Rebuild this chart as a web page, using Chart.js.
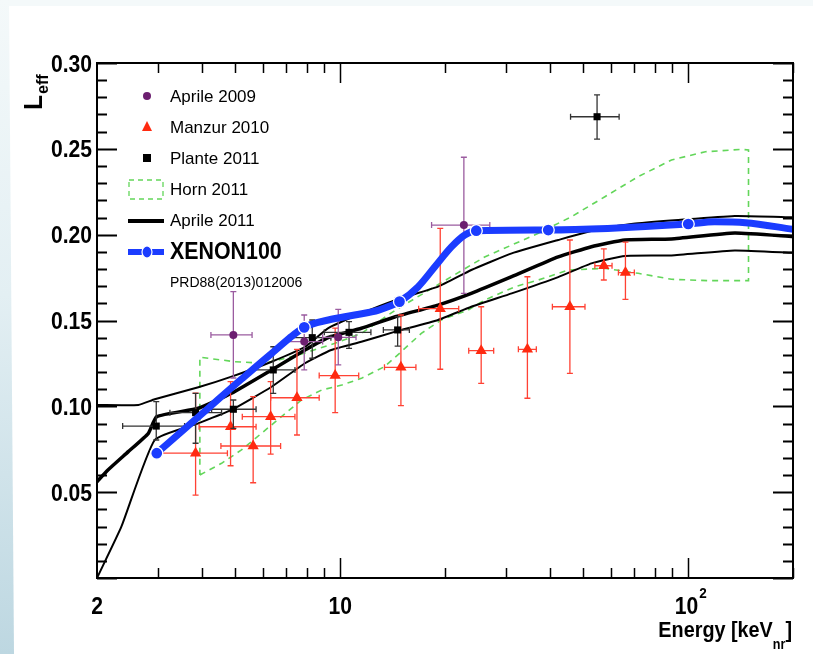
<!DOCTYPE html>
<html><head><meta charset="utf-8">
<script src="https://cdn.jsdelivr.net/npm/chart.js@4.4.0/dist/chart.umd.min.js"></script>
<style>html,body{margin:0;padding:0;background:#fff;}canvas{display:block;}</style>
</head><body>
<canvas id="c" width="813" height="654"></canvas>
<script>
// ---------------- DATA ----------------
// rows: [E, L, Emin, Emax, Lmin, Lmax]
const aprile2009 = [
  [4.93, 0.1416, 4.25, 5.58, 0.1165, 0.1668],
  [7.88, 0.1377, 7.0, 8.9, 0.1212, 0.1532],
  [9.87, 0.1402, 8.9, 11.1, 0.1241, 0.1565],
  [22.66, 0.2056, 18.3, 26.9, 0.1658, 0.2451]
];
const manzur2010 = [
  [3.84, 0.0727, 3.03, 4.74, 0.0483, 0.1077],
  [4.84, 0.0881, 3.93, 5.73, 0.0654, 0.1144],
  [5.62, 0.0769, 4.54, 6.74, 0.0555, 0.1056],
  [6.31, 0.0940, 5.23, 7.41, 0.0722, 0.1144],
  [7.51, 0.1050, 6.31, 8.70, 0.0833, 0.1332],
  [9.67, 0.1179, 8.70, 11.3, 0.0963, 0.1456],
  [14.94, 0.1227, 13.4, 16.5, 0.1004, 0.1532],
  [19.38, 0.1569, 16.8, 21.9, 0.1216, 0.2037],
  [25.41, 0.1324, 23.4, 27.6, 0.1134, 0.1580],
  [34.5, 0.1332, 32.5, 36.6, 0.1047, 0.1755],
  [45.7, 0.1580, 40.7, 50.5, 0.1192, 0.1969],
  [57.2, 0.1819, 53.9, 60.4, 0.1736, 0.1917],
  [66.0, 0.1779, 63.0, 70.0, 0.1623, 0.1956]
];
const plante2011 = [
  [2.96, 0.0885, 2.37, 3.57, 0.0804, 0.1027],
  [3.84, 0.0963, 3.24, 4.56, 0.0785, 0.1076],
  [4.93, 0.0983, 4.27, 5.73, 0.0872, 0.1037],
  [6.42, 0.1212, 5.57, 7.41, 0.1076, 0.1347],
  [8.31, 0.1400, 7.1, 9.4, 0.1280, 0.1503],
  [10.6, 0.1431, 9.0, 12.25, 0.1338, 0.1493],
  [14.62, 0.1445, 13.3, 15.8, 0.1351, 0.1522],
  [54.7, 0.2687, 45.9, 63.3, 0.2556, 0.2814]
];
// Horn 2011 contour: lower edge (left->right), upper edge (right->left)
const hornLowerE = [3.95,4.56,5.20,5.94,6.78,7.74,8.84,10.1,11.5,13.4,14.8,17.1,19.5,23.3,26.0,31.8,37.1,45.2,57.6,71.8,89.5,114,149];
const hornLowerL = [0.060,0.0668,0.0746,0.0843,0.094,0.1037,0.1095,0.1124,0.1163,0.1231,0.1309,0.1425,0.1503,0.1561,0.1619,0.1697,0.1736,0.1794,0.1804,0.1775,0.174,0.1732,0.1732];
const hornUpperE = [149,142,112,89.5,71.8,57.6,46.2,37.1,26.0,19.5,14.4,11.5,9.66,7.57,6.08,4.98,3.95];
const hornUpperL = [0.2493,0.2497,0.2483,0.2435,0.2338,0.2221,0.2105,0.2008,0.187,0.172,0.156,0.1425,0.1367,0.1299,0.1251,0.126,0.1286];
// Aprile 2011 band (central, upper, lower)
const a11CenterE = [2.0,2.15,2.46,2.81,2.97,3.91,4.87,6.35,7.92,9.24,11.5,14.4,19.1,23.8,31.1,42.3,52.7,65.8,89.5,136,200];
const a11CenterL = [0.0561,0.0629,0.0736,0.0843,0.094,0.0989,0.1076,0.1212,0.1328,0.1401,0.1455,0.1522,0.159,0.1658,0.1755,0.187,0.193,0.1969,0.1975,0.201,0.1989];
const a11UpperE = [2.0,2.63,2.93,3.91,4.87,6.35,7.92,9.24,11.5,14.4,19.1,23.8,31.1,42.3,56.3,71.8,136,200];
const a11UpperL = [0.1008,0.1008,0.1041,0.1111,0.1173,0.126,0.1347,0.1456,0.1542,0.1619,0.1697,0.1794,0.1891,0.1969,0.2037,0.2066,0.2109,0.2101];
const a11LowerE = [2.0,2.35,2.93,3.91,4.87,6.35,7.92,9.42,11.5,14.4,19.1,23.8,31.1,42.3,52.7,65.8,89.5,136,200];
const a11LowerL = [0.0,0.0299,0.0804,0.0901,0.0979,0.1114,0.1251,0.1328,0.1376,0.1435,0.1503,0.158,0.1658,0.1753,0.1833,0.1876,0.1879,0.1908,0.1894];
// XENON100 curve and its markers
const xeCurveE = [2.97,4.18,5.2,6.35,7.88,9.24,11.0,12.9,14.8,16.75,18.7,20.9,22.8,24.6,39.6,100,119,146,200];
const xeCurveL = [0.0727,0.0990,0.1158,0.1308,0.146,0.1503,0.1532,0.1561,0.161,0.1697,0.1813,0.193,0.1998,0.2023,0.2027,0.2062,0.2075,0.207,0.2031];
const xeMarkE = [2.97,7.88,14.8,24.6,39.6,100];
const xeMarkL = [0.0727,0.146,0.161,0.2023,0.2027,0.2062];
// axis ticks
const yTickValues = [0.05,0.10,0.15,0.20,0.25,0.30];
const yTickLabels = ['0.05','0.10','0.15','0.20','0.25','0.30'];
const xTickValues = [2,10,100];
const xTickLabels = ['2','10','10'];
const xTickSup = ['','','2'];
const xMinor = [3,4,5,6,7,8,9,20,30,40,50,60,70,80,90,200];

// ---------------- helpers ----------------
const FONT = '"Liberation Sans", Arial, Helvetica, sans-serif';
const pts = (E, L) => E.map((e, i) => ({x: e, y: L[i]}));
const rowPts = rows => rows.map(r => ({x: r[0], y: r[1]}));
const hornPath = pts(hornLowerE, hornLowerL).concat(pts(hornUpperE, hornUpperL)).concat([{x: hornLowerE[0], y: hornLowerL[0]}]);

const COL = {
  blue: '#1b3cff', purple: '#6c1f70', purpleBar: '#9b5ca0',
  red: '#ff2a10', redBar: '#ff4234', black: '#000', blackBar: '#333', green: '#63d65a'
};

function txt(ctx, s, x, y, size, bold, align, base, sx) {
  ctx.save();
  ctx.font = (bold ? 'bold ' : '') + size + 'px ' + FONT;
  ctx.textAlign = align || 'left';
  ctx.textBaseline = base || 'alphabetic';
  ctx.translate(x, y);
  ctx.scale(sx || 1, 1);
  ctx.fillText(s, 0, 0);
  ctx.restore();
}

function errBars(chart, rows, color, lw) {
  const ctx = chart.ctx, xs = chart.scales.x, ys = chart.scales.y;
  ctx.save();
  ctx.strokeStyle = color; ctx.lineWidth = lw;
  const cap = 3;
  rows.forEach(r => {
    const x = xs.getPixelForValue(r[0]), y = ys.getPixelForValue(r[1]);
    const x1 = xs.getPixelForValue(r[2]), x2 = xs.getPixelForValue(r[3]);
    const y1 = ys.getPixelForValue(r[4]), y2 = ys.getPixelForValue(r[5]);
    ctx.beginPath();
    ctx.moveTo(x1, y); ctx.lineTo(x2, y);
    ctx.moveTo(x, y1); ctx.lineTo(x, y2);
    ctx.moveTo(x1, y - cap); ctx.lineTo(x1, y + cap);
    ctx.moveTo(x2, y - cap); ctx.lineTo(x2, y + cap);
    ctx.moveTo(x - cap, y1); ctx.lineTo(x + cap, y1);
    ctx.moveTo(x - cap, y2); ctx.lineTo(x + cap, y2);
    ctx.stroke();
  });
  ctx.restore();
}

const bgPlugin = {
  id: 'bg',
  beforeDraw(chart) {
    const ctx = chart.ctx, W = chart.width, H = chart.height;
    ctx.save();
    ctx.fillStyle = '#fff'; ctx.fillRect(0, 0, W, H);
    ctx.fillStyle = '#f4f9fa'; ctx.fillRect(0, 0, W, 6);
    const g = ctx.createLinearGradient(0, 0, 0, H);
    g.addColorStop(0, '#f4f9fa'); g.addColorStop(0.45, '#e3eff3'); g.addColorStop(1, '#bdd7e1');
    ctx.fillStyle = g;
    ctx.beginPath(); ctx.moveTo(0, 0); ctx.lineTo(9, 0); ctx.lineTo(14, H); ctx.lineTo(0, H); ctx.closePath(); ctx.fill();
    ctx.restore();
  }
};

const errPlugin = {
  id: 'err',
  beforeDatasetDraw(chart, args) {
    const lbl = chart.data.datasets[args.index].label;
    if (lbl === 'Aprile 2009') errBars(chart, aprile2009, COL.purpleBar, 1.3);
    if (lbl === 'Manzur 2010') errBars(chart, manzur2010, COL.redBar, 1.3);
    if (lbl === 'Plante 2011') errBars(chart, plante2011, COL.blackBar, 1.3);
  }
};

const framePlugin = {
  id: 'frame',
  afterDraw(chart) {
    const ctx = chart.ctx, xs = chart.scales.x, ys = chart.scales.y, ca = chart.chartArea;
    const L = ca.left, R = ca.right, T = ca.top, B = ca.bottom;
    ctx.save();
    ctx.strokeStyle = '#000'; ctx.lineWidth = 2;
    ctx.strokeRect(L, T, R - L, B - T);
    ctx.beginPath();
    for (let k = 0; k <= 30; k++) {
      const v = k / 100, y = Math.round(ys.getPixelForValue(v)) + 0.5;
      const len = (k % 5 === 0) ? 20 : 10;
      ctx.moveTo(L, y); ctx.lineTo(L + len, y);
      ctx.moveTo(R, y); ctx.lineTo(R - len, y);
    }
    ctx.stroke();
    ctx.lineWidth = 1.5;
    ctx.beginPath();
    xMinor.forEach(v => {
      const x = Math.round(xs.getPixelForValue(v)) + 0.5;
      ctx.moveTo(x, B); ctx.lineTo(x, B - 10);
      ctx.moveTo(x, T); ctx.lineTo(x, T + 10);
    });
    [10, 100].forEach(v => {
      const x = Math.round(xs.getPixelForValue(v)) + 0.5;
      ctx.moveTo(x, B); ctx.lineTo(x, B - 20);
      ctx.moveTo(x, T); ctx.lineTo(x, T + 20);
    });
    ctx.stroke();
    ctx.fillStyle = '#000';
    yTickValues.forEach((v, i) => {
      txt(ctx, yTickLabels[i], L - 5, ys.getPixelForValue(v) + 2, 24, true, 'right', 'middle', 0.88);
    });
    xTickValues.forEach((v, i) => {
      const x = xs.getPixelForValue(v);
      if (xTickSup[i]) {
        txt(ctx, xTickLabels[i], x + 10, 614, 24, true, 'right', 'alphabetic', 0.88);
        txt(ctx, xTickSup[i], x + 11, 598, 15, true, 'left', 'alphabetic', 0.9);
      } else {
        txt(ctx, xTickLabels[i], x, 614, 24, true, 'center', 'alphabetic', 0.88);
      }
    });
    ctx.font = 'bold 22px ' + FONT;
    const eW = ctx.measureText('Energy [keV').width * 0.9;
    ctx.font = 'bold 14px ' + FONT;
    const nW = ctx.measureText('nr').width * 0.9;
    ctx.font = 'bold 22px ' + FONT;
    const bW = ctx.measureText(']').width * 0.9;
    const xEnd = 792, x0 = xEnd - bW - nW - eW;
    txt(ctx, 'Energy [keV', x0, 637, 22, true, 'left', 'alphabetic', 0.9);
    txt(ctx, 'nr', x0 + eW, 649, 14, true, 'left', 'alphabetic', 0.9);
    txt(ctx, ']', x0 + eW + nW, 637, 22, true, 'left', 'alphabetic', 0.9);
    ctx.save();
    ctx.translate(42, 110);
    ctx.rotate(-Math.PI / 2);
    txt(ctx, 'L', 0, 0, 26, true, 'left', 'alphabetic', 0.95);
    txt(ctx, 'eff', 16, 6, 17, true, 'left', 'alphabetic', 0.95);
    ctx.restore();

    // legend
    const lx = 147, tx = 170;
    ctx.fillStyle = COL.purple;
    ctx.beginPath(); ctx.arc(lx, 96, 4, 0, 2 * Math.PI); ctx.fill();
    ctx.fillStyle = COL.red;
    ctx.beginPath(); ctx.moveTo(lx, 121); ctx.lineTo(lx + 5, 131); ctx.lineTo(lx - 5, 131); ctx.closePath(); ctx.fill();
    ctx.fillStyle = '#000'; ctx.fillRect(lx - 4, 154, 8, 8);
    ctx.strokeStyle = COL.green; ctx.lineWidth = 1.3; ctx.setLineDash([5, 4]);
    ctx.strokeRect(129, 180, 34, 19);
    ctx.setLineDash([]);
    ctx.strokeStyle = '#000'; ctx.lineWidth = 4;
    ctx.beginPath(); ctx.moveTo(128, 221); ctx.lineTo(164, 221); ctx.stroke();
    ctx.strokeStyle = COL.blue; ctx.lineWidth = 6;
    ctx.beginPath(); ctx.moveTo(128, 252); ctx.lineTo(164, 252); ctx.stroke();
    ctx.fillStyle = COL.blue; ctx.strokeStyle = '#fff'; ctx.lineWidth = 1.2;
    ctx.beginPath(); ctx.ellipse(lx, 252, 5, 6, 0, 0, 2 * Math.PI); ctx.fill(); ctx.stroke();
    ctx.fillStyle = '#000';
    txt(ctx, 'Aprile 2009', tx, 97, 17, false, 'left', 'middle');
    txt(ctx, 'Manzur 2010', tx, 128, 17, false, 'left', 'middle');
    txt(ctx, 'Plante 2011', tx, 159, 17, false, 'left', 'middle');
    txt(ctx, 'Horn 2011', tx, 190, 17, false, 'left', 'middle');
    txt(ctx, 'Aprile 2011', tx, 221, 17, false, 'left', 'middle');
    txt(ctx, 'XENON100', tx, 253, 23, true, 'left', 'middle', 0.93);
    txt(ctx, 'PRD88(2013)012006', tx, 283, 14, false, 'left', 'middle');
    ctx.restore();
  }
};

const baseLine = {showLine: true, pointRadius: 0, fill: false, tension: 0};

new Chart(document.getElementById('c'), {
  type: 'scatter',
  data: {
    datasets: [
      {label: 'XENON100 markers', data: pts(xeMarkE, xeMarkL), showLine: false, pointStyle: 'circle',
       pointRadius: 6, backgroundColor: COL.blue, borderColor: '#fff', borderWidth: 1.3},
      {label: 'XENON100', data: pts(xeCurveE, xeCurveL), ...baseLine, borderColor: COL.blue, borderWidth: 7,
       cubicInterpolationMode: 'monotone', borderCapStyle: 'round'},
      {label: 'Aprile 2009', data: rowPts(aprile2009), showLine: false, pointStyle: 'circle', pointRadius: 4,
       backgroundColor: COL.purple, borderColor: COL.purple, borderWidth: 0},
      {label: 'Plante 2011', data: rowPts(plante2011), showLine: false, pointStyle: 'rect', pointRadius: 5,
       backgroundColor: '#000', borderColor: '#000', borderWidth: 0},
      {label: 'Manzur 2010', data: rowPts(manzur2010), showLine: false, pointStyle: 'triangle', pointRadius: 6.5,
       backgroundColor: COL.red, borderColor: COL.red, borderWidth: 0},
      {label: 'Aprile 2011', data: pts(a11CenterE, a11CenterL), ...baseLine, borderColor: '#000', borderWidth: 3.5,
       tension: 0.15},
      {label: 'Aprile 2011 upper', data: pts(a11UpperE, a11UpperL), ...baseLine, borderColor: '#000', borderWidth: 2,
       tension: 0.15},
      {label: 'Aprile 2011 lower', data: pts(a11LowerE, a11LowerL), ...baseLine, borderColor: '#000', borderWidth: 2,
       tension: 0.15},
      {label: 'Horn 2011', data: hornPath, ...baseLine, borderColor: COL.green, borderWidth: 1.6, borderDash: [6, 5]}
    ]
  },
  options: {
    responsive: false, animation: false, devicePixelRatio: 1,
    layout: {padding: {left: 97, right: 20, top: 63, bottom: 76}},
    plugins: {legend: {display: false}, tooltip: {enabled: false}},
    scales: {
      x: {type: 'logarithmic', min: 2, max: 200, display: false},
      y: {type: 'linear', min: 0, max: 0.30, display: false}
    }
  },
  plugins: [bgPlugin, errPlugin, framePlugin]
});
</script>
</body></html>
